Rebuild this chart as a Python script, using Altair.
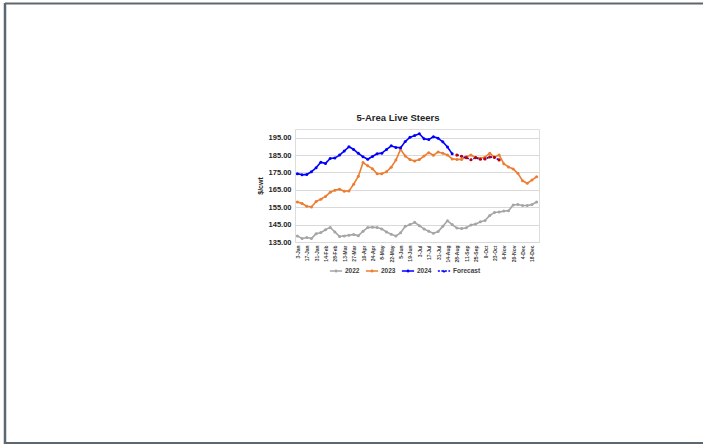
import altair as alt
import pandas as pd

# Week-ending labels (every week; the axis shows every other one)
weeks = [
    "3-Jan", "10-Jan", "17-Jan", "24-Jan", "31-Jan",
    "7-Feb", "14-Feb", "21-Feb", "28-Feb",
    "6-Mar", "13-Mar", "20-Mar", "27-Mar",
    "3-Apr", "10-Apr", "17-Apr", "24-Apr",
    "1-May", "8-May", "15-May", "22-May", "29-May",
    "5-Jun", "12-Jun", "19-Jun", "26-Jun",
    "3-Jul", "10-Jul", "17-Jul", "24-Jul", "31-Jul",
    "7-Aug", "14-Aug", "21-Aug", "28-Aug",
    "4-Sep", "11-Sep", "18-Sep", "25-Sep",
    "2-Oct", "9-Oct", "16-Oct", "23-Oct", "30-Oct",
    "6-Nov", "13-Nov", "20-Nov", "27-Nov",
    "4-Dec", "11-Dec", "18-Dec", "25-Dec",
]

# $/cwt, weekly
y2022 = [138.5, 137.0, 137.6, 137.0, 139.8, 140.4, 142.1, 143.4, 140.8, 138.2,
         138.5, 138.9, 139.3, 138.6, 141.2, 143.3, 143.5, 143.3, 142.5, 140.8,
         139.5, 138.4, 140.3, 144.0, 145.0, 146.3, 144.4, 142.5, 141.2, 140.0,
         141.0, 144.0, 147.2, 145.0, 143.0, 142.7, 143.2, 144.8, 145.3, 146.6,
         147.4, 150.2, 152.0, 152.2, 152.8, 153.0, 156.3, 156.6, 156.0, 156.0,
         156.5, 158.0]
y2023 = [158.0, 157.2, 155.6, 155.2, 158.3, 159.6, 161.2, 163.6, 164.8, 165.4,
         164.2, 164.4, 168.2, 172.8, 180.7, 178.8, 177.2, 174.2, 174.3, 175.4,
         178.0, 182.1, 188.3, 184.4, 182.4, 181.6, 182.4, 184.4, 186.4, 184.9,
         186.8, 186.0, 185.0, 182.8, 182.5, 182.5, 184.1, 185.0, 183.6, 183.2,
         183.8, 186.1, 183.8, 185.1, 180.0, 178.2, 177.0, 174.5, 170.2, 168.8,
         170.6, 172.5]
y2024 = [174.3, 173.7, 173.8, 175.4, 177.7, 180.9, 180.2, 183.1, 183.3, 185.0,
         187.3, 189.8, 188.2, 186.0, 184.0, 182.6, 184.2, 185.8, 186.1, 188.2,
         190.3, 189.4, 189.2, 192.8, 195.2, 196.2, 197.3, 194.4, 193.9, 195.6,
         194.7, 192.6, 189.6, 185.7]
forecast_start = 34
forecast = [185.0, 184.3, 183.5, 182.3, 183.5, 182.6, 182.8, 183.9, 183.7, 182.2]

series_order = ["2022", "2023", "2024", "Forecast"]
series_colors = ["#A5A5A5", "#ED7D31", "#0000FF", "#0000FF"]
series_dash = [[1, 0], [1, 0], [1, 0], [2, 1.5]]

rows = []
for name, vals, start in [("2022", y2022, 0), ("2023", y2023, 0),
                          ("2024", y2024, 0), ("Forecast", forecast, forecast_start)]:
    for i, v in enumerate(vals):
        rows.append({"series": name, "week": weeks[start + i], "value": v})
df = pd.DataFrame(rows)

FONT = "Liberation Sans"
W, H = 244, 113
LEFT, TOP = 295, 129

x_enc = alt.X(
    "week:O",
    scale=alt.Scale(type="point", domain=weeks, padding=0.5),
    axis=alt.Axis(values=weeks[::2], labelAngle=-90, labelFontSize=5,
                  labelFontWeight="bold", labelColor="#404040", labelFont=FONT,
                  ticks=False, domainColor="#D9D9D9", grid=False, title=None,
                  labelPadding=3),
)
y_enc = alt.Y(
    "value:Q",
    scale=alt.Scale(domain=[135, 200], nice=False, zero=False),
    axis=alt.Axis(values=[135, 145, 155, 165, 175, 185, 195], format=".2f",
                  labelFontSize=7.5, labelFontWeight="bold", labelColor="#262626",
                  labelFont=FONT, ticks=False, domain=False, gridColor="#D9D9D9",
                  title="$/cwt", titleFontSize=7, titleFontWeight="bold",
                  titleColor="#262626", titleFont=FONT, titlePadding=5,
                  labelPadding=4),
)

# legend symbol: a short line with a dot in the middle
line_dot = "M-1,0H1M-0.12,0a0.12,0.12 0 1,0 0.24,0a0.12,0.12 0 1,0 -0.24,0"
legend = alt.Legend(orient="none", legendX=34, legendY=135, direction="horizontal",
                    title=None, symbolType=line_dot, symbolSize=150,
                    symbolStrokeWidth=1.6, labelFontSize=6.5, labelFontWeight="bold",
                    labelFont=FONT, labelColor="#404040", columnPadding=2,
                    labelOffset=2)

base = alt.Chart(df)

lines = base.mark_line(strokeWidth=1.6).encode(
    x=x_enc, y=y_enc,
    color=alt.Color("series:N", scale=alt.Scale(domain=series_order, range=series_colors),
                    legend=legend),
    strokeDash=alt.StrokeDash("series:N", scale=alt.Scale(domain=series_order, range=series_dash),
                              legend=legend),
)

points = base.transform_filter(alt.datum.series != "Forecast").mark_point(
    filled=True, size=9, opacity=1
).encode(x=x_enc, y=y_enc, color=alt.Color("series:N"))

fc_points = base.transform_filter(alt.datum.series == "Forecast").mark_point(
    filled=True, size=10, opacity=1, color="#C00000"
).encode(x=x_enc, y=y_enc)

one = pd.DataFrame({"label": ["5-Area Live Steers"]})

title = alt.Chart(one).mark_text(
    font=FONT, fontSize=9.5, fontWeight="bold",
    color="#262626", align="center", baseline="middle"
).encode(text="label:N", x=alt.value(398 - LEFT), y=alt.value(118 - TOP))

# Page frame lines
frame_color = "#5D6770"
frame_top = alt.Chart(one).mark_rule(color=frame_color, strokeWidth=2).encode(
    x=alt.value(5 - LEFT), x2=alt.value(703 - LEFT), y=alt.value(3.5 - TOP))
frame_left = alt.Chart(one).mark_rule(color=frame_color, strokeWidth=2.5).encode(
    x=alt.value(5 - LEFT), y=alt.value(3 - TOP), y2=alt.value(444 - TOP))
frame_bottom = alt.Chart(one).mark_rule(color=frame_color, strokeWidth=2).encode(
    x=alt.value(5 - LEFT), x2=alt.value(703 - LEFT), y=alt.value(443 - TOP))

chart = alt.layer(lines, points, fc_points, title, frame_top, frame_left, frame_bottom).properties(
    width=W, height=H,
    autosize=alt.AutoSizeParams(type="none"),
    padding={"left": LEFT, "top": TOP, "right": 703 - LEFT - W, "bottom": 445 - TOP - H},
).configure_view(stroke=None).configure(background="white")

chart.save("out.html", embed_options={"renderer": "svg", "actions": False})
